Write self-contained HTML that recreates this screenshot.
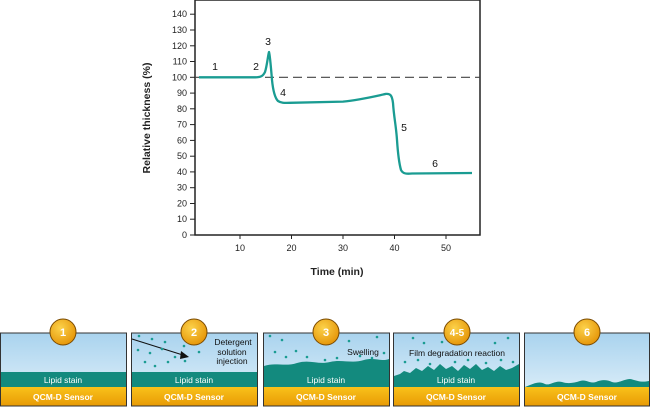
<!DOCTYPE html>
<html><head><meta charset="utf-8"><style>
html,body{margin:0;padding:0;background:#fff;}
svg{display:block;font-family:"Liberation Sans",sans-serif;}
</style></head><body>
<svg width="650" height="408" viewBox="0 0 650 408" xmlns="http://www.w3.org/2000/svg">
<defs>
<linearGradient id="sky" x1="0" y1="0" x2="0" y2="1"><stop offset="0" stop-color="#a9d3ee"/><stop offset="1" stop-color="#e6f3fb"/></linearGradient>
<linearGradient id="gold" x1="0" y1="0" x2="0" y2="1"><stop offset="0" stop-color="#f9c21a"/><stop offset="1" stop-color="#e89a05"/></linearGradient>
<radialGradient id="coin" cx="0.4" cy="0.35" r="0.7"><stop offset="0" stop-color="#fcd24a"/><stop offset="1" stop-color="#e49306"/></radialGradient>
</defs>
<!-- chart frame -->
<rect x="195" y="0" width="285" height="235" fill="none" stroke="#222" stroke-width="1.5"/>
<g font-size="9" fill="#222" text-anchor="end">
<g stroke="#222" stroke-width="1">
<line x1="190" y1="235" x2="195" y2="235"/><line x1="190" y1="219.2" x2="195" y2="219.2"/><line x1="190" y1="203.5" x2="195" y2="203.5"/><line x1="190" y1="187.7" x2="195" y2="187.7"/><line x1="190" y1="171.9" x2="195" y2="171.9"/><line x1="190" y1="156.2" x2="195" y2="156.2"/><line x1="190" y1="140.4" x2="195" y2="140.4"/><line x1="190" y1="124.6" x2="195" y2="124.6"/><line x1="190" y1="108.8" x2="195" y2="108.8"/><line x1="190" y1="93.1" x2="195" y2="93.1"/><line x1="190" y1="77.3" x2="195" y2="77.3"/><line x1="190" y1="61.5" x2="195" y2="61.5"/><line x1="190" y1="45.8" x2="195" y2="45.8"/><line x1="190" y1="30" x2="195" y2="30"/><line x1="190" y1="14.2" x2="195" y2="14.2"/>
<line x1="240" y1="235" x2="240" y2="239"/><line x1="291.5" y1="235" x2="291.5" y2="239"/><line x1="343" y1="235" x2="343" y2="239"/><line x1="394.5" y1="235" x2="394.5" y2="239"/><line x1="446" y1="235" x2="446" y2="239"/>
</g>
<text x="187" y="238">0</text><text x="187" y="222.2">10</text><text x="187" y="206.5">20</text><text x="187" y="190.7">30</text><text x="187" y="174.9">40</text><text x="187" y="159.2">50</text><text x="187" y="143.4">60</text><text x="187" y="127.6">70</text><text x="187" y="111.8">80</text><text x="187" y="96.1">90</text><text x="187" y="80.3">100</text><text x="187" y="64.5">110</text><text x="187" y="48.8">120</text><text x="187" y="33">130</text><text x="187" y="17.2">140</text>
</g>
<g font-size="9" fill="#222" text-anchor="middle">
<text x="240" y="251">10</text><text x="291.5" y="251">20</text><text x="343" y="251">30</text><text x="394.5" y="251">40</text><text x="446" y="251">50</text>
</g>
<text x="337" y="275" font-size="10.5" font-weight="bold" text-anchor="middle" fill="#222">Time (min)</text>
<text transform="translate(150,118) rotate(-90)" font-size="10.5" font-weight="bold" text-anchor="middle" fill="#222">Relative thickness (%)</text>
<line x1="195" y1="77.3" x2="480" y2="77.3" stroke="#444" stroke-width="1.2" stroke-dasharray="9,5"/>
<path d="M199,77.3 L255,77.3 C261,77.3 263,76 265,72 C267,66 268,55 269,52 C270,55 271,68 272,80 C273,90 275,98 278,101 C281,103 284,103 290,102.8 L343,101.6 C360,100 376,96 386,93.9 C390,93.5 392,95 393,103 C394,118 396,125 397,140 C398,155 399,163 401,170 C403,174 407,174 412,173.5 L472,173" fill="none" stroke="#1a9c92" stroke-width="2.3" stroke-linejoin="round"/>
<g font-size="10.5" fill="#111" text-anchor="middle">
<text x="215" y="70">1</text><text x="256" y="70">2</text><text x="268" y="45">3</text><text x="283" y="96">4</text><text x="404" y="131">5</text><text x="435" y="167">6</text>
</g>
<!-- panels -->
<g id="panels">
<g transform="translate(0,0)">
<rect x="0.5" y="333" width="126" height="73" fill="url(#sky)" stroke="#333"/>
<rect x="1" y="372" width="125" height="15" fill="#138a7e"/>
<rect x="1" y="387" width="125" height="19" fill="url(#gold)"/>
<rect x="0.5" y="333" width="126" height="73" fill="none" stroke="#333"/>
</g>
<g>
<rect x="131.5" y="333" width="126" height="73" fill="url(#sky)"/>
<rect x="132" y="372" width="125" height="15" fill="#138a7e"/>
<rect x="132" y="387" width="125" height="19" fill="url(#gold)"/>
<rect x="131.5" y="333" width="126" height="73" fill="none" stroke="#333"/>
<line x1="132" y1="339" x2="186" y2="356" stroke="#111" stroke-width="1"/><polygon points="189,357 181,351 180,359" fill="#111"/>
<g fill="#1a9c92"><circle cx="139" cy="336" r="1.3"/><circle cx="152" cy="339" r="1.3"/><circle cx="165" cy="342" r="1.3"/><circle cx="138" cy="350" r="1.3"/><circle cx="150" cy="353" r="1.3"/><circle cx="162" cy="349" r="1.3"/><circle cx="175" cy="357" r="1.3"/><circle cx="184" cy="346" r="1.3"/><circle cx="192" cy="340" r="1.3"/><circle cx="199" cy="352" r="1.3"/><circle cx="168" cy="362" r="1.3"/><circle cx="145" cy="362" r="1.3"/><circle cx="185" cy="361" r="1.3"/><circle cx="155" cy="366" r="1.3"/></g>
<g font-size="8.5" fill="#111" text-anchor="middle"><text x="233" y="345">Detergent</text><text x="232" y="355">solution</text><text x="232" y="364">injection</text></g>
</g>
<g>
<rect x="263.5" y="333" width="126" height="73" fill="url(#sky)"/>
<path d="M264,366 C275,362 285,367 297,363 C310,359 318,365 330,362 C342,359 352,364 364,360 C374,357 382,362 389,359 L389,387 L264,387 Z" fill="#138a7e"/>
<rect x="264" y="387" width="125" height="19" fill="url(#gold)"/>
<rect x="263.5" y="333" width="126" height="73" fill="none" stroke="#333"/>
<g fill="#1a9c92"><circle cx="270" cy="336" r="1.3"/><circle cx="282" cy="340" r="1.3"/><circle cx="275" cy="352" r="1.3"/><circle cx="286" cy="357" r="1.3"/><circle cx="296" cy="351" r="1.3"/><circle cx="307" cy="357" r="1.3"/><circle cx="318" cy="340" r="1.3"/><circle cx="349" cy="341" r="1.3"/><circle cx="377" cy="337" r="1.3"/><circle cx="384" cy="353" r="1.3"/><circle cx="337" cy="358" r="1.3"/><circle cx="360" cy="356" r="1.3"/><circle cx="372" cy="358" r="1.3"/><circle cx="325" cy="360" r="1.3"/></g>
<text x="363" y="355" font-size="8.5" fill="#111" text-anchor="middle">Swelling</text>
</g>
<g>
<rect x="393.5" y="333" width="126" height="73" fill="url(#sky)"/>
<path d="M394,376 L400,374 L404,371 L410,373 L416,368 L422,371 L428,366 L434,370 L440,364 L446,369 L452,366 L458,371 L464,365 L470,369 L476,364 L482,370 L488,367 L494,371 L500,366 L506,370 L512,368 L519,364 L519,387 L394,387 Z" fill="#138a7e"/>
<rect x="394" y="387" width="125" height="19" fill="url(#gold)"/>
<rect x="393.5" y="333" width="126" height="73" fill="none" stroke="#333"/>
<g fill="#1a9c92"><circle cx="413" cy="338" r="1.3"/><circle cx="424" cy="343" r="1.3"/><circle cx="442" cy="342" r="1.3"/><circle cx="495" cy="343" r="1.3"/><circle cx="508" cy="338" r="1.3"/><circle cx="405" cy="362" r="1.3"/><circle cx="418" cy="360" r="1.3"/><circle cx="430" cy="364" r="1.3"/><circle cx="455" cy="362" r="1.3"/><circle cx="468" cy="360" r="1.3"/><circle cx="486" cy="363" r="1.3"/><circle cx="501" cy="360" r="1.3"/><circle cx="513" cy="362" r="1.3"/></g>
<text x="457" y="356" font-size="8.5" fill="#111" text-anchor="middle">Film degradation reaction</text>
</g>
<g>
<rect x="524.5" y="333" width="125" height="73" fill="url(#sky)"/>
<path d="M525,387 L530,385 C535,383 540,381 545,384 C550,386 555,380 562,382 C568,384 574,383 580,381 C586,379 590,384 596,382 C602,379 608,380 612,382 C618,384 624,379 630,379 C636,380 640,383 649,381 L649,387 Z" fill="#138a7e"/>
<rect x="525" y="387" width="124" height="19" fill="url(#gold)"/>
<rect x="524.5" y="333" width="125" height="73" fill="none" stroke="#333"/>
</g>
<g font-size="8.5" fill="#fff" text-anchor="middle">
<text x="63" y="383">Lipid stain</text><text x="194" y="383">Lipid stain</text><text x="326" y="383">Lipid stain</text><text x="456" y="383">Lipid stain</text>
</g>
<g font-size="8.5" font-weight="bold" fill="#fff" text-anchor="middle">
<text x="63" y="400">QCM-D Sensor</text><text x="194" y="400">QCM-D Sensor</text><text x="326" y="400">QCM-D Sensor</text><text x="456" y="400">QCM-D Sensor</text><text x="587" y="400">QCM-D Sensor</text>
</g>
<g stroke="#7a4a00" stroke-width="1" fill="url(#coin)">
<circle cx="63" cy="332" r="13"/><circle cx="194" cy="332" r="13"/><circle cx="326" cy="332" r="13"/><circle cx="457" cy="332" r="13"/><circle cx="587" cy="332" r="13"/>
</g>
<g font-size="11" font-weight="bold" fill="#fff" text-anchor="middle">
<text x="63" y="336">1</text><text x="194" y="336">2</text><text x="326" y="336">3</text><text x="457" y="336" font-size="10">4-5</text><text x="587" y="336">6</text>
</g>
</g>
</svg>
</body></html>
